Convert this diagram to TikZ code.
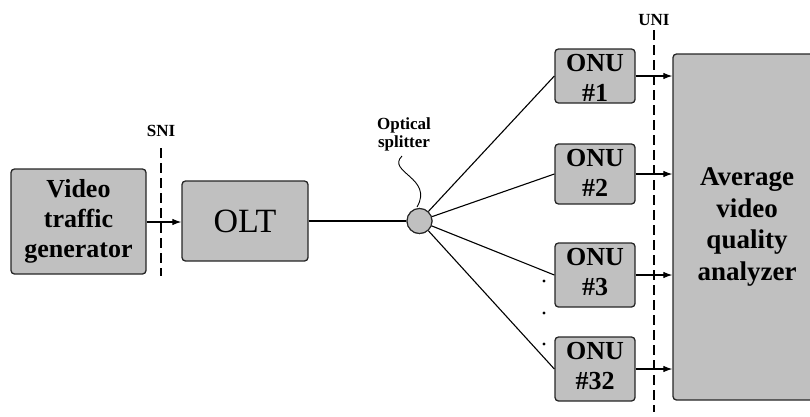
\documentclass[tikz,border=0pt]{standalone}
\usepackage{fontspec}
\setmainfont{Liberation Serif}
\usetikzlibrary{arrows.meta}
\definecolor{boxgray}{RGB}{192,192,192}
\tikzset{
  box/.style={draw=black!85, fill=boxgray, rounded corners=3.5pt, line width=1.3pt, inner sep=0pt},
  btxt/.style={font=\fontsize{26}{30}\selectfont\bfseries, align=center},
  conn/.style={line width=1.1pt},
  arr/.style={line width=1.1pt, -{Latex[length=9pt,width=6.5pt]}},
  iface/.style={line width=1.8pt, dash pattern=on 10pt off 5pt},
  small/.style={font=\fontsize{17}{18}\selectfont\bfseries, align=center}
}
\begin{document}
\begin{tikzpicture}[x=1pt,y=-1pt]
\useasboundingbox (0,0) rectangle (810,416);
\clip (0,0) rectangle (810,416);
% boxes
\node[box, minimum width=135pt, minimum height=105pt] (gen) at (78.5,221.5) {};
\node[btxt] (gent) at (gen.center) {Video\\traffic\\generator};
\node[box, minimum width=126pt, minimum height=80pt, font=\fontsize{34}{36}\selectfont] (olt) at (245,221) {OLT};
\node[draw=black!85, fill=boxgray, circle, line width=1.1pt, minimum size=25pt, inner sep=0pt] (spl) at (419.5,221) {};
\node[box, minimum width=80pt, minimum height=54pt] (onu1) at (595,76) {};
\node[box, minimum width=80pt, minimum height=60pt] (onu2) at (595,174) {};
\node[box, minimum width=80pt, minimum height=64pt] (onu3) at (595,275) {};
\node[box, minimum width=80pt, minimum height=64pt] (onu32) at (595,369) {};
\node[btxt] (onu1t) at (595,78) {ONU\\\#1};
\node[btxt] (onu2t) at (595,173) {ONU\\\#2};
\node[btxt] (onu3t) at (595,272) {ONU\\\#3};
\node[btxt] (onu32t) at (595,366) {ONU\\\#32};
\node[box, minimum width=148pt, minimum height=346pt] (ana) at (747,227) {};
\node[btxt, font=\fontsize{27}{31.5}\selectfont\bfseries] (anat) at (747,227) {Average\\video\\quality\\analyzer};
% interfaces
\coordinate (sniT) at (161,148);
\coordinate (sniB) at (161,276);
\draw[iface] (sniT) -- (sniB);
\node[small] (snil) at (161,131) {SNI};
\coordinate (uniT) at (654,30);
\coordinate (uniB) at (654,412);
\draw[iface] (uniT) -- (uniB);
\node[small] (unil) at (654,20) {UNI};
% connectors
\draw[arr] (gen.east |- 0,222) -- (olt.west |- 0,222);
\draw[conn] (olt.east |- spl) -- (spl.west);
\draw[conn] (spl) -- (onu1.west);
\draw[conn] (spl) -- (onu2.west);
\draw[conn] (spl) -- (onu3.west);
\draw[conn] (spl) -- (onu32.west);
\node[draw=black!85, fill=boxgray, circle, line width=1.1pt, minimum size=25pt, inner sep=0pt] (spl2) at (spl) {};
\draw[arr] (onu1.east) -- (onu1.east -| ana.west);
\draw[arr] (onu2.east) -- (onu2.east -| ana.west);
\draw[arr] (onu3.east) -- (onu3.east -| ana.west);
\draw[arr] (onu32.east) -- (onu32.east -| ana.west);
% splitter label
\node[small] (splt) at (404,134) {Optical\\splitter};
\draw[line width=0.9pt] (402,156) .. controls (386,172) and (434,178) .. (417,207);
% dots
\fill (544,281) circle (1.6pt);
\fill (544,313) circle (1.6pt);
\fill (544,344) circle (1.6pt);
\end{tikzpicture}
\end{document}
